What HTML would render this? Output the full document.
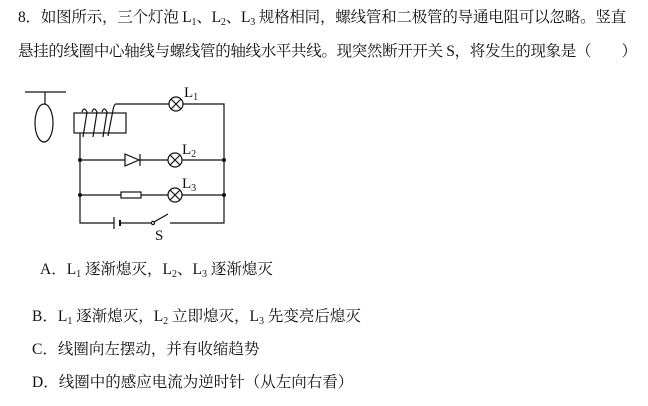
<!DOCTYPE html>
<html><head><meta charset="utf-8"><style>
body{margin:0;width:648px;height:406px;background:#fff;position:relative;overflow:hidden;font-family:"Liberation Serif","Noto Serif CJK SC",serif;font-size:15.5px;color:#111}
.t{position:absolute;white-space:nowrap;line-height:20px}
sub{font-size:10px;vertical-align:-3px;line-height:0}
svg{position:absolute;left:0;top:0}
</style></head><body>
<div class="t" style="left:18px;top:8px;letter-spacing:-0.2px">8．如图所示，三个灯泡 L<sub>1</sub>、L<sub>2</sub>、L<sub>3</sub> 规格相同，螺线管和二极管的导通电阻可以忽略。竖直</div>
<div class="t" style="left:18px;top:42px;letter-spacing:-0.33px">悬挂的线圈中心轴线与螺线管的轴线水平共线。现突然断开开关 S，将发生的现象是（　　）</div>
<div class="t" style="left:40px;top:260px">A．L<sub>1</sub> 逐渐熄灭，L<sub>2</sub>、L<sub>3</sub> 逐渐熄灭</div>
<div class="t" style="left:32px;top:307px">B．L<sub>1</sub> 逐渐熄灭，L<sub>2</sub> 立即熄灭，L<sub>3</sub> 先变亮后熄灭</div>
<div class="t" style="left:32px;top:340px">C．线圈向左摆动，并有收缩趋势</div>
<div class="t" style="left:32px;top:373px">D．线圈中的感应电流为逆时针（从左向右看）</div>
<svg width="648" height="406" fill="none" stroke="#111" stroke-width="1.2">
<line x1="25" y1="92" x2="66" y2="92"/><line x1="45" y1="92" x2="45" y2="104"/>
<ellipse cx="44" cy="123" rx="9" ry="19"/>
<rect x="74" y="113" width="52" height="20"/>
<path d="M80 133 V223 H114 M120 223 H152 M170 223 H224 V104 H183 M169 104 H116 Q114 104 113 110 L108 136"/>
<path d="M82 112 Q84 106 87 112 L83 137 M92 112 Q94 106 97 112 L93 137 M102 112 Q104 106 107 112 L103 137"/>
<line x1="114" y1="217" x2="114" y2="229"/><line x1="120" y1="220" x2="120" y2="226" stroke-width="2"/>
<circle cx="153" cy="223" r="1.6"/><line x1="154" y1="222" x2="168" y2="214"/>
<path d="M80 160 H125 M140 160 H168 M182 160 H224"/>
<path d="M125 154 V166 L139 160 Z"/><line x1="140" y1="154" x2="140" y2="166"/>
<path d="M80 195 H121 M141 195 H168 M182 195 H224"/>
<rect x="121" y="192" width="20" height="6"/>
<g><circle cx="176" cy="104" r="7"/><path d="M171 99 L181 109 M181 99 L171 109"/></g>
<g><circle cx="175" cy="160" r="7"/><path d="M170 155 L180 165 M180 155 L170 165"/></g>
<g><circle cx="175" cy="195" r="7"/><path d="M170 190 L180 200 M180 190 L170 200"/></g>
<g fill="#111" stroke="none"><circle cx="80" cy="160" r="2"/><circle cx="80" cy="195" r="2"/><circle cx="224" cy="160" r="2"/><circle cx="224" cy="195" r="2"/></g>
<g fill="#111" stroke="none" font-family="Liberation Serif,serif" font-size="15">
<text x="184" y="97">L<tspan font-size="10" dy="3">1</tspan></text>
<text x="182" y="154">L<tspan font-size="10" dy="3">2</tspan></text>
<text x="182" y="188">L<tspan font-size="10" dy="3">3</tspan></text>
<text x="155" y="240">S</text></g>
</svg>
</body></html>
